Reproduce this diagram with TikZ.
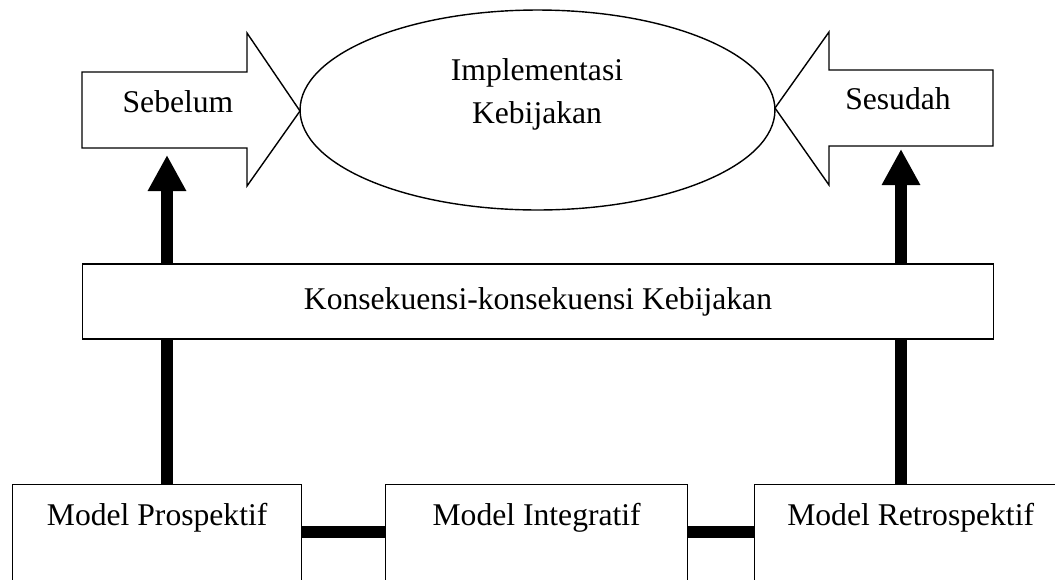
\documentclass[tikz,border=0pt]{standalone}
\usepackage{fontspec}
\setmainfont{Liberation Serif}
\usetikzlibrary{shapes.geometric, arrows.meta, positioning}
\tikzset{
        x=0.02cm, y=-0.02cm, % one unit is one pixel of the page
        every node/.style={font=\fontsize{18}{24}\selectfont, inner sep=0pt},
        outline/.style={draw, thick, fill=white},
        modelbox/.style={outline, anchor=north west, text height=0.82cm, text depth=2.6cm},
        bar/.style={line width=0.24cm}, % the thick black connectors
        uparrow/.style={bar, -{Triangle[length=0.72cm, width=0.72cm]}}
        }
\begin{document}
\begin{tikzpicture}
        \clip (0,0) rectangle (1055,579);
        % block arrows
        \draw[outline] (82,72) -- (247,72) -- (247,33) -- (300,111) -- (247,186) -- (247,148) -- (82,148) -- cycle;
        \draw[outline] (993,70) -- (829,70) -- (829,32) -- (775,108) -- (829,185) -- (829,146) -- (993,146) -- cycle;
        \node[anchor=base](sebelum) at (178,112){Sebelum};
        \node[anchor=base](sesudah) at (898,109){Sesudah};
        \node[ellipse, draw, thick, minimum width=9.5cm, minimum height=4cm](impl) at (537.5,110){};
        \node[align=center, anchor=base](impltext) at (537,123){Implementasi\\Kebijakan};
        \node[outline, minimum width=18.22cm, minimum height=1.5cm](kons) at (538,301.5){Konsekuensi-konsekuensi Kebijakan};
        \node[modelbox, minimum width=5.78cm](m1) at (12,484){Model Prospektif};
        \node[modelbox, minimum width=6.04cm](m2) at (385,484){Model Integratif};
        \node[modelbox, minimum width=6.24cm](m3) at (754,484){Model Retrospektif};
        \coordinate (upL) at (167,155);
        \coordinate (upR) at (901,149);
        \coordinate (link) at (0,532);
        \draw[uparrow] (kons.north -| upL) -- (upL);
        \draw[uparrow] (kons.north -| upR) -- (upR);
        \draw[bar] (m1.north -| upL) -- (kons.south -| upL)
                   (m3.north -| upR) -- (kons.south -| upR)
                   (m1.east |- link) -- (m2.west |- link)
                   (m2.east |- link) -- (m3.west |- link);
\end{tikzpicture}
\end{document}
